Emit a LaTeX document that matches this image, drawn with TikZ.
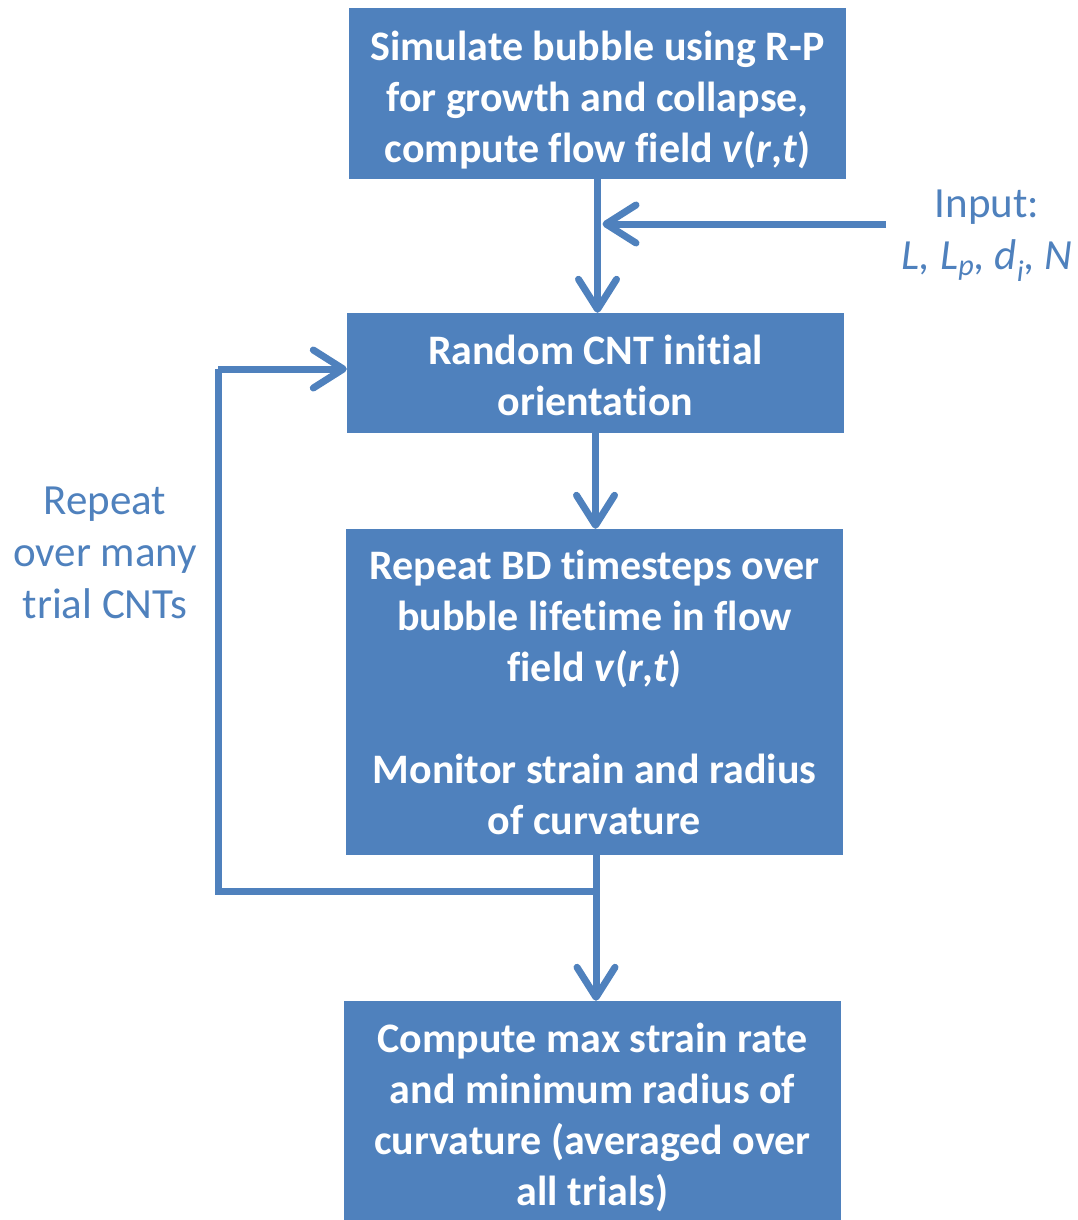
\documentclass[tikz,border=0pt]{standalone}
\usepackage{fontspec}
\setmainfont[Ligatures={NoCommon}]{Carlito}
\usetikzlibrary{arrows.meta}
\definecolor{ob}{HTML}{4F81BD}
\begin{document}
\begin{tikzpicture}[x=1pt,y=-1pt,
  box/.style={fill=ob, text=white, font=\bfseries\fontsize{42}{51}\selectfont,
    align=center, minimum width=497pt, inner sep=0pt},
  lbl/.style={text=ob, font=\fontsize{43}{52}\selectfont, align=center, inner sep=0pt},
  wire/.style={draw=ob, line width=7pt},
  conn/.style={wire, -{Straight Barb[length=30pt,width=38pt,round]}}
]
\useasboundingbox (0,0) rectangle (1077,1220);
% boxes
\node[box, minimum height=171pt] (b1) at (597.5,93.5)
  {\rule{0pt}{42pt}Simulate bubble using R-P\\for growth and collapse,\\compute flow field \textit{v}(\textit{r},\textit{t})};
\node[box, minimum height=120pt] (b2) at (595.5,373)
  {\rule{0pt}{35pt}Random CNT initial\\orientation};
\node[box, minimum height=326pt] (b3) at (594.5,692)
  {Repeat BD timesteps over\\bubble lifetime in flow\\field \textit{v}(\textit{r},\textit{t})\\[51pt]Monitor strain and radius\\of curvature};
\node[box, minimum height=233pt] (b4) at (592.5,1117.5)
  {Compute max strain rate\\and minimum radius of\\curvature (averaged over\\all trials)};
% labels
\node[lbl] (inp) at (987,236) {Input:\\\textit{L, L\textsubscript{p}, d\textsubscript{i}, N}};
\node[lbl] (rep) at (105,553) {Repeat\\over many\\trial CNTs};
% coordinates
\coordinate (ia) at (886,224);
\coordinate (j) at (596,891);
\coordinate (lc) at (218,891);
\coordinate (lt) at (218,369);
% connectors
\draw[conn] (b1.south) -- (b1.south |- b2.north);
\draw[conn] (ia) -- ([xshift=5pt]b1.south |- ia);
\draw[conn] (b2.south) -- (b2.south |- b3.north);
\draw[wire] (j |- b3.south) -- (j);
\draw[conn] (j) -- (j |- b4.north);
\draw[wire, line join=miter] (j) -- (lc) -- (lt);
\draw[conn] (lt) -- (lt -| b2.west);
\end{tikzpicture}
\end{document}
